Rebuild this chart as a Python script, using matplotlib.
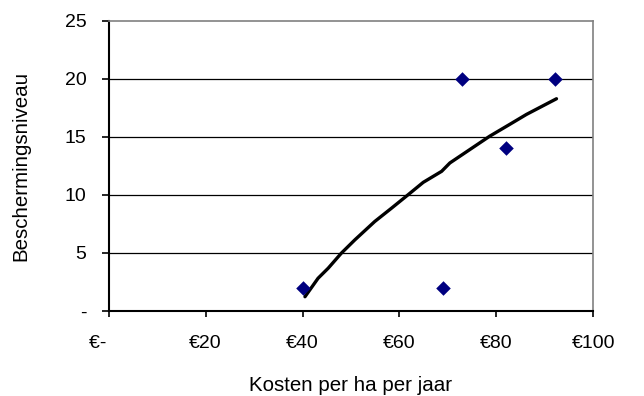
import matplotlib.pyplot as plt
import numpy as np

plt.rcParams['font.family'] = ['Liberation Sans', 'DejaVu Sans']

# kosten (euro per ha per jaar) en beschermingsniveau
kosten = [40, 69, 73, 82, 92]
niveau = [2, 2, 20, 14, 20]

# trendlijn
trend_x = [40.5, 43.2, 45.3, 48.0, 50.8, 54.9, 58.4, 61.8, 64.9, 68.7,
           70.4, 74.5, 78.6, 82.7, 86.2, 92.4]
trend_y = [1.23, 2.82, 3.69, 4.98, 6.13, 7.71, 8.87, 10.02, 11.08, 12.03,
           12.75, 13.9, 15.05, 16.06, 16.93, 18.28]

x_ticks = [0, 20, 40, 60, 80, 100]
x_labels = ['€-    ', '€20', '€40', '€60', '€80', '€100']
y_ticks = [0, 5, 10, 15, 20, 25]
y_labels = ['-', '5', '10', '15', '20', '25']

fig = plt.figure(figsize=(6.44, 3.96), dpi=100)
ax = fig.add_axes([0.1688, 0.2146, 0.7525, 0.7331])

for yv in y_ticks[1:-1]:
    ax.axhline(yv, color='black', lw=0.9, zorder=1)

ax.plot(trend_x, trend_y, color='black', lw=2.4, zorder=2,
        solid_capstyle='round', solid_joinstyle='round')
ax.scatter(kosten, niveau, marker='D', s=55, color='#000080', zorder=3, linewidths=0)

ax.set_xlim(0, 100)
ax.set_ylim(0, 25)
ax.set_xticks(x_ticks)
ax.set_xticklabels(x_labels)
ax.set_yticks(y_ticks)
ax.set_yticklabels(y_labels)

ax.tick_params(axis='x', direction='out', length=4.5, width=1.2, pad=13, labelsize=14)
ax.tick_params(axis='y', direction='out', length=5, width=1.2, pad=11, labelsize=14)

for side in ['left', 'bottom']:
    ax.spines[side].set_color('black')
    ax.spines[side].set_linewidth(1.5)
for side in ['top', 'right']:
    ax.spines[side].set_color('#808080')
    ax.spines[side].set_linewidth(1.2)

ax.set_xlabel('Kosten per ha per jaar', fontsize=14.8, labelpad=17)
ax.set_ylabel('Beschermingsniveau', fontsize=14.8, labelpad=25)

plt.savefig('out.png', dpi=100)
